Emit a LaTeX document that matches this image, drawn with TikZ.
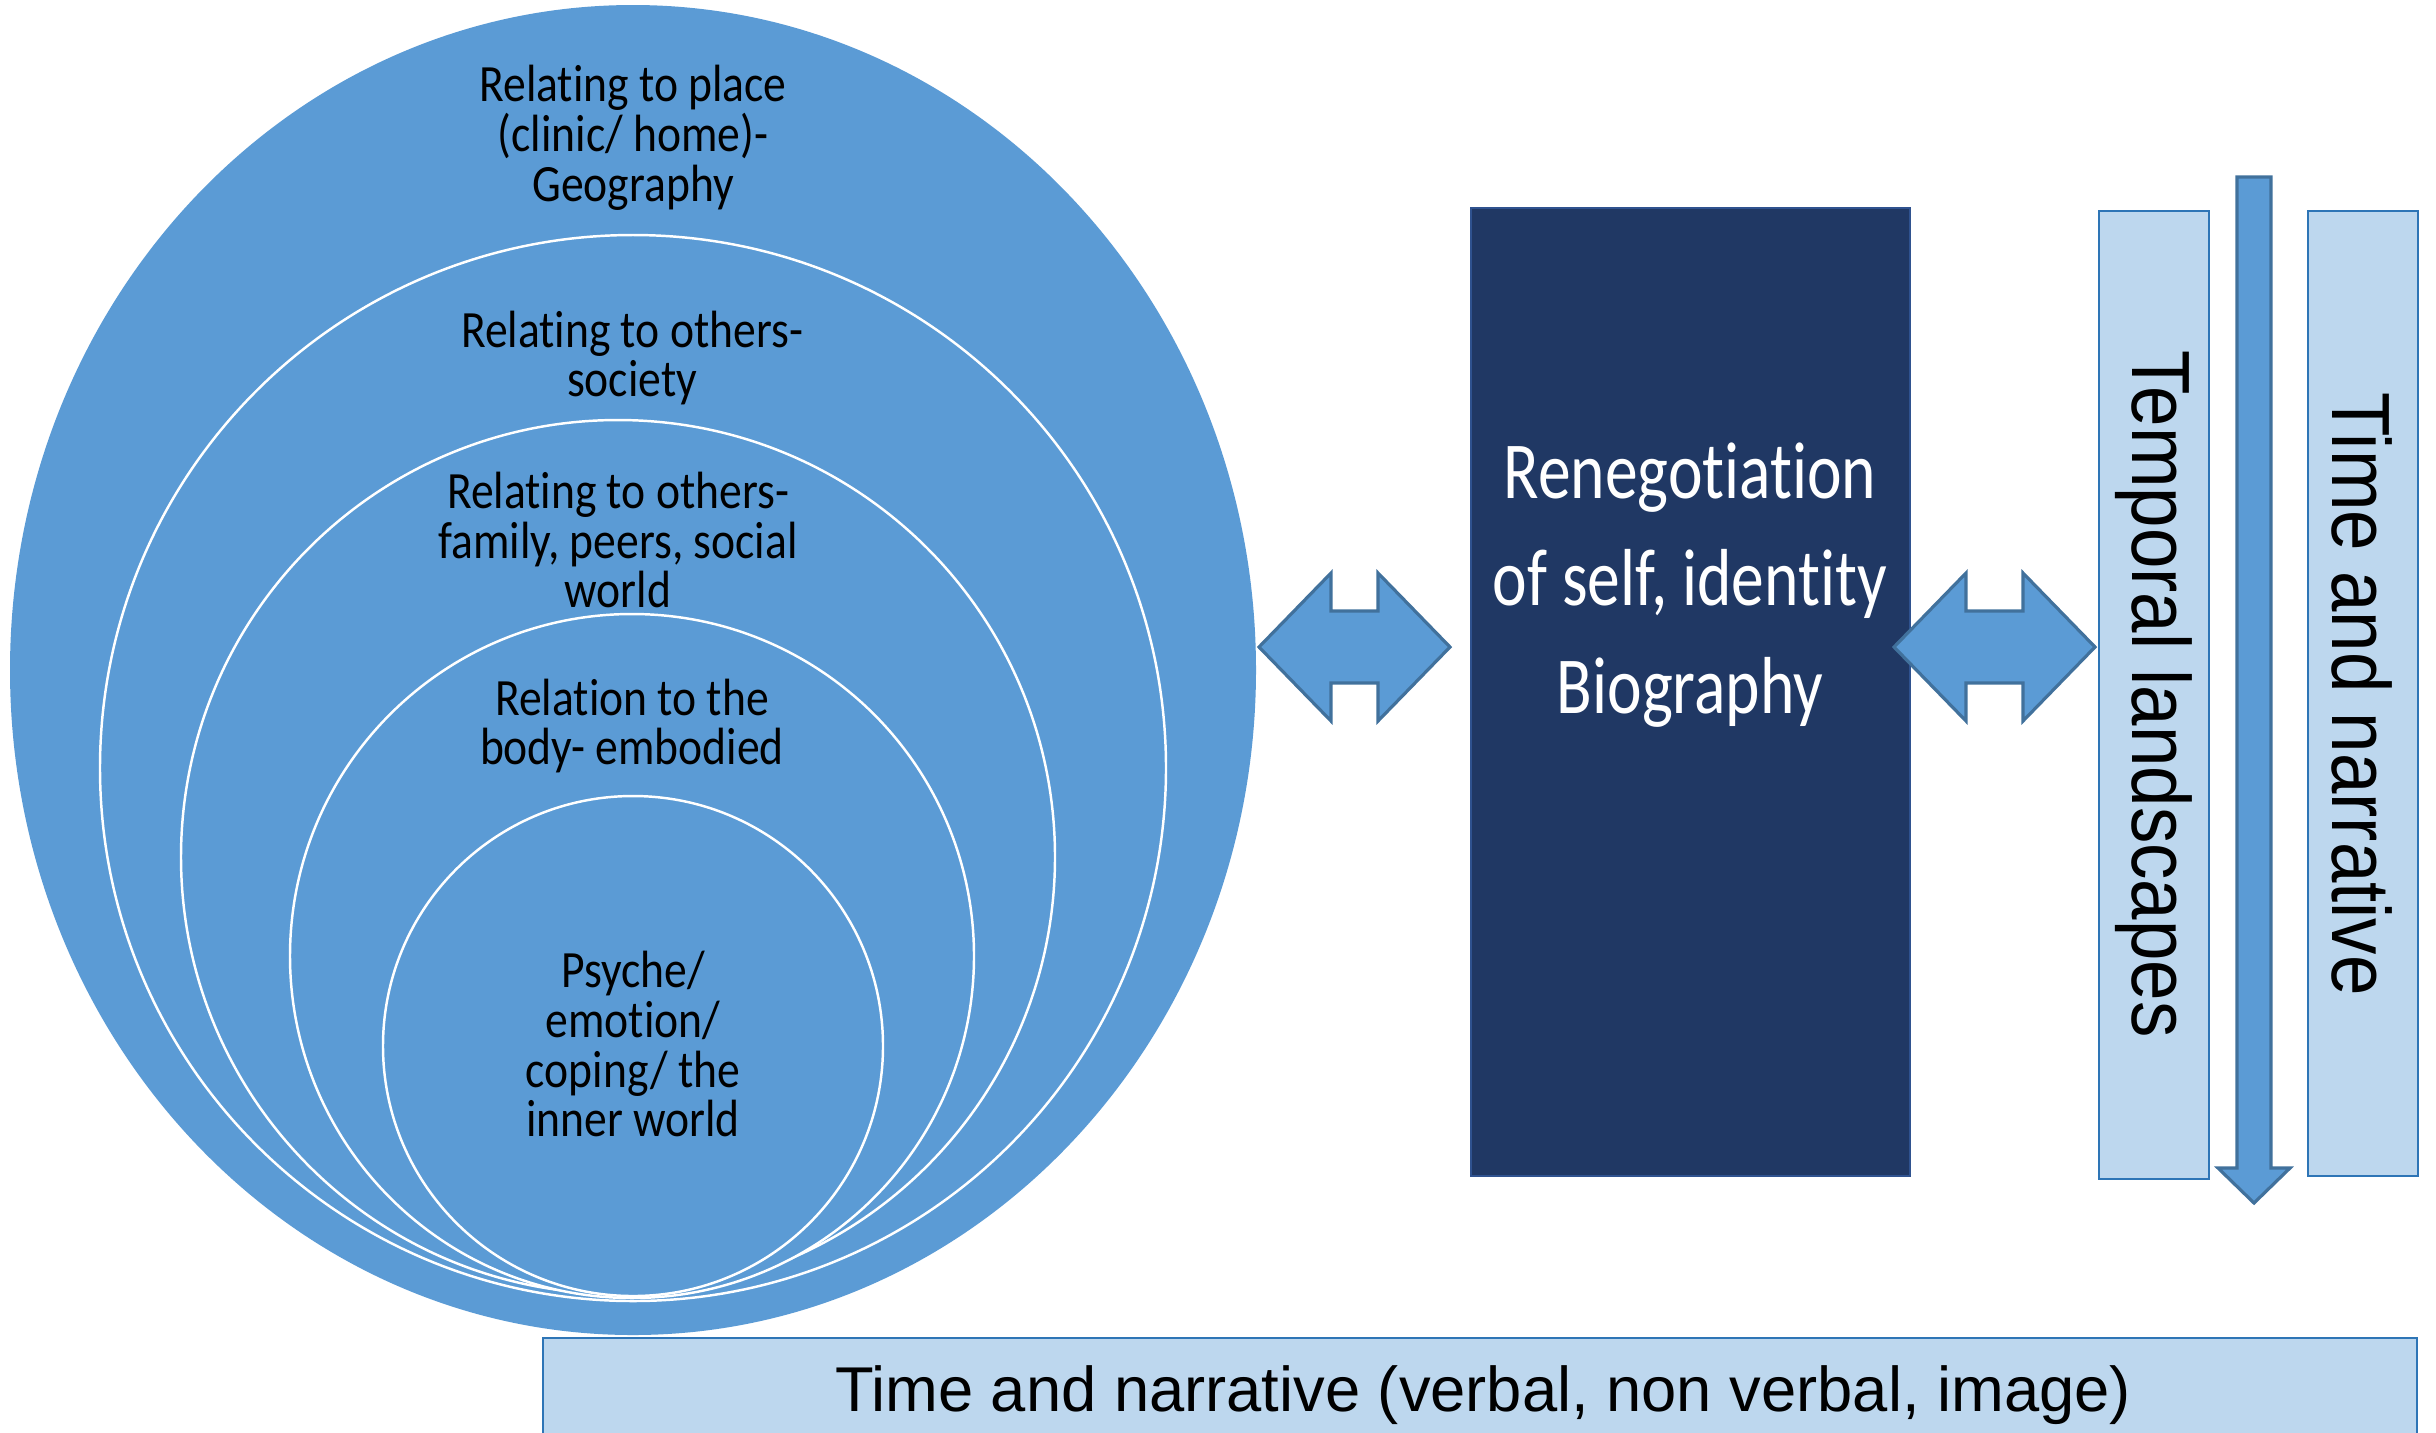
\documentclass[tikz,border=0pt]{standalone}
\usepackage{fontspec}
\usepackage{tikz}
\setmainfont{Liberation Sans}
\newfontfamily\ringFont[FakeStretch=0.87, Ligatures=NoCommon]{Carlito}
\newfontfamily\selfFont[FakeStretch=0.81, Ligatures=NoCommon]{Carlito}
\newfontfamily\sideFont[FakeStretch=0.88]{Liberation Sans}
\tikzstyle{pixels} = [x = 0.01cm, y = -0.01cm]
\definecolor{ringColor}{RGB}{91,155,213}
\definecolor{ringBorder}{RGB}{65,113,156}
\definecolor{selfColor}{RGB}{32,56,100}
\definecolor{selfBorder}{RGB}{47,82,143}
\definecolor{paleColor}{RGB}{189,215,238}
\definecolor{paleBorder}{RGB}{46,117,182}
\tikzstyle{ringStyle} = [fill=ringColor, draw=white, line width=.7pt]
\tikzstyle{ringText} = [align=center, inner sep=0pt, text=black, font=\ringFont\fontsize{14.9}{14.2}\selectfont]
\tikzstyle{arrowStyle} = [fill=ringColor, draw=ringBorder, line width=.9pt]
\tikzstyle{selfStyle} = [fill=selfColor, draw=selfBorder, line width=.6pt]
\tikzstyle{selfText} = [align=center, inner sep=0pt, text=white, font=\selfFont\fontsize{23}{30.5}\selectfont]
\tikzstyle{paleStyle} = [fill=paleColor, draw=paleBorder, line width=.6pt]
\tikzstyle{sideText} = [rotate=-90, inner sep=0pt, text=black, font=\sideFont\fontsize{23.5}{28}\selectfont]
\newcommand{\ring}[3]{\filldraw [ringStyle] (#1,#2) circle (#3);}
\newcommand{\doubleArrow}[2]{\filldraw [arrowStyle] (#1,647) -- (#1 + 72,573) -- (#1 + 72,611) -- (#2 - 72,611) -- (#2 - 72,573) -- (#2,647) -- (#2 - 72,721) -- (#2 - 72,683) -- (#1 + 72,683) -- (#1 + 72,721) -- cycle;}
\begin{document}
\begin{tikzpicture}[pixels]
  \useasboundingbox (0,0) rectangle (2436,1432);
  \clip (0,0) rectangle (2436,1432);

  % circles of relating
  \fill [ringColor] (633,670) ellipse (623 and 665);
  \ring{633}{768}{533}
  \ring{618}{857}{437}
  \ring{632}{956}{342}
  \ring{633}{1046}{250}
  \node (place) [ringText] at (633,138) {Relating to place\\(clinic/ home)-\\Geography};
  \node (society) [ringText] at (632,358) {Relating to others-\\society};
  \node (family) [ringText] at (618,540) {Relating to others-\\family, peers, social\\world};
  \node (body) [ringText] at (632,726) {Relation to the\\body- embodied};
  \node (psyche) [ringText] at (633,1044) {Psyche/\\emotion/\\coping/ the\\inner world};

  % self box
  \filldraw [selfStyle] (1471,208) rectangle (1910,1176);
  \node (self) [selfText] at (1690,585) {Renegotiation\\of self, identity\\Biography};

  \doubleArrow{1259}{1450}
  \doubleArrow{1894}{2095}

  % time boxes
  \filldraw [paleStyle] (2099,211) rectangle (2209,1179);
  \node (temporal) [sideText] at (2154,694) {Temporal landscapes};
  \filldraw [arrowStyle] (2237,177) -- (2271,177) -- (2271,1168) -- (2290,1168) -- (2254,1203) -- (2218,1168) -- (2237,1168) -- cycle;
  \filldraw [paleStyle] (2308,211) rectangle (2418,1176);
  \node (timeSide) [sideText] at (2362,694) {Time and narrative};

  \filldraw [paleStyle] (543,1338) rectangle (2417,1470);
  \node (timeBottom) [inner sep=0pt, font=\fontsize{18}{22}\selectfont] at (1483,1395) {Time and narrative (verbal, non verbal, image)};
\end{tikzpicture}
\end{document}
